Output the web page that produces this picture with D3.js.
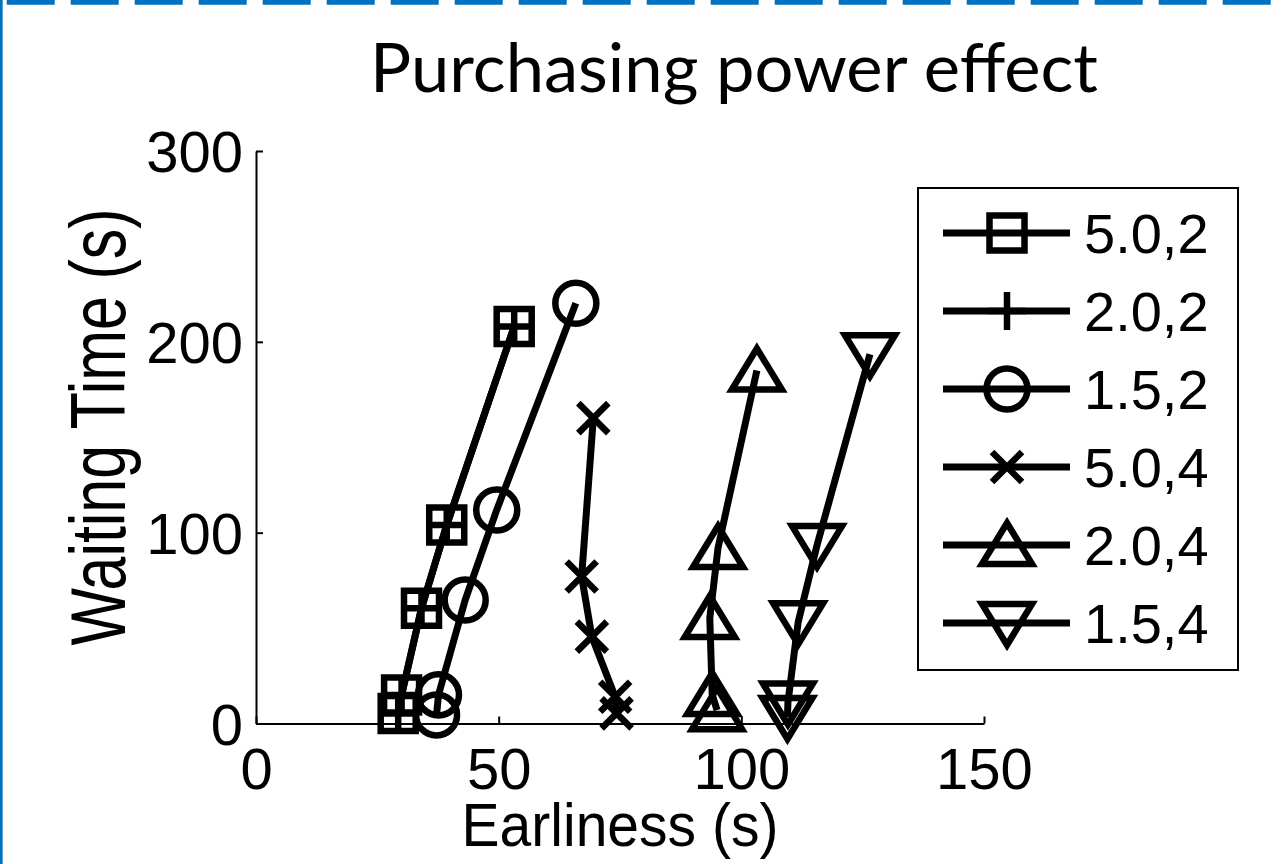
<!DOCTYPE html>
<html>
<head>
<meta charset="utf-8">
<script src="https://cdn.jsdelivr.net/npm/d3@7"></script>
<style>
html,body{margin:0;padding:0;background:#fff;}
svg{display:block;}
</style>
</head>
<body>
<svg id="chart" width="1281" height="864"></svg>
<script>
// ---- data ----
const seriesNames = ["5.0,2", "2.0,2", "1.5,2", "5.0,4", "2.0,4", "1.5,4"];
const markerTypes = ["square", "plus", "circle", "x", "triUp", "triDown"];
const earliness_50_2 = [29.3, 30.0, 34.1, 39.3, 53.2];
const waiting_50_2   = [5.3, 15, 60.4, 104, 208];
const earliness_20_2 = [29.3, 30.0, 34.1, 39.3, 53.2];
const waiting_20_2   = [5.3, 15, 60.4, 104, 208];
const earliness_15_2 = [37.2, 37.6, 43.1, 49.6, 65.9];
const waiting_15_2   = [4.5, 15, 64.7, 111.9, 220.2];
const earliness_50_4 = [74.3, 74.0, 69.2, 67.1, 69.5];
const waiting_50_4   = [5.3, 14, 45.5, 77, 160];
const earliness_20_4 = [95.0, 94.0, 93.5, 95.2, 103.2];
const waiting_20_4   = [7, 15, 55.3, 92, 185];
const earliness_15_4 = [109.5, 109.6, 111.7, 115.6, 126.5];
const waiting_15_4   = [3.4, 11, 53, 93.5, 193.5];
const xTicks = [0, 50, 100, 150];
const yTicks = [0, 100, 200, 300];
const titleText = "Purchasing power effect";
const xLabel = "Earliness (s)";
const yLabel = "Waiting Time (s)";

const seriesX = [earliness_50_2, earliness_20_2, earliness_15_2, earliness_50_4, earliness_20_4, earliness_15_4];
const seriesY = [waiting_50_2, waiting_20_2, waiting_15_2, waiting_50_4, waiting_20_4, waiting_15_4];
const series = seriesNames.map((name, i) => ({
  name, marker: markerTypes[i],
  points: seriesX[i].map((xv, j) => ({x: xv, y: seriesY[i][j]}))
}));

// ---- layout ----
const svg = d3.select("#chart");
const BLUE = "#0070C0";
const x = d3.scaleLinear().domain([0, 150]).range([256, 984]);
const y = d3.scaleLinear().domain([0, 300]).range([723.5, 151]);

// border (top dashed, left solid)
svg.append("line").attr("x1", 6.7).attr("x2", 1281).attr("y1", 2.4).attr("y2", 2.4)
  .attr("stroke", BLUE).attr("stroke-width", 4.8).attr("stroke-dasharray", "48 16");
svg.append("line").attr("x1", 1.3).attr("x2", 1.3).attr("y1", 0).attr("y2", 864)
  .attr("stroke", BLUE).attr("stroke-width", 2.7);

// title
svg.append("text").attr("x", 370).attr("y", 92)
  .attr("font-family", "Lato, 'Open Sans', sans-serif").attr("font-size", 67.5)
  .attr("textLength", 728).attr("lengthAdjust", "spacingAndGlyphs")
  .attr("fill", "#000").text(titleText);

// axes
const FONT = "'Liberation Sans', Arial, sans-serif";
const gx = svg.append("g").attr("transform", `translate(0,${y(0)})`)
  .call(d3.axisBottom(x).tickValues(xTicks).tickFormat(d3.format("d")).tickSizeInner(-7).tickSizeOuter(0));
const gy = svg.append("g").attr("transform", `translate(${x(0)},0)`)
  .call(d3.axisLeft(y).tickValues(yTicks).tickFormat(d3.format("d")).tickSizeInner(-7).tickSizeOuter(0));
[gx, gy].forEach(g => {
  g.select(".domain").attr("stroke", "#000").attr("stroke-width", 2);
  g.selectAll(".tick line").attr("stroke", "#000").attr("stroke-width", 2);
  g.selectAll(".tick text").attr("fill", "#000").attr("font-family", FONT).attr("font-size", 58);
});
gx.selectAll(".tick text").attr("y", 65).attr("dy", 0);
gy.selectAll(".tick text").attr("x", -13).attr("dy", "0.355em");

// axis labels
svg.append("text").attr("transform", `translate(620,846) scale(0.92,1)`)
  .attr("text-anchor", "middle").attr("font-family", FONT).attr("font-size", 62)
  .attr("fill", "#000").text(xLabel);
svg.append("text").attr("transform", `translate(125,427) rotate(-90) scale(0.79,1)`)
  .attr("text-anchor", "middle").attr("font-family", FONT).attr("font-size", 77)
  .attr("fill", "#000").text(yLabel);

// markers
function markerPath(type) {
  switch (type) {
    case "square": return "M-17.5,-17.5H17.5V17.5H-17.5Z";
    case "plus": return "M-19,0H19M0,-19V19";
    case "circle": { const p = d3.path(); p.arc(0, 0, 20.5, 0, 2 * Math.PI); p.closePath(); return p.toString(); }
    case "x": return "M-15,-15L15,15M-15,15L15,-15";
    case "triUp": return "M0,-22L25,19L-25,19Z";
    case "triDown": return "M0,22L25,-19L-25,-19Z";
  }
}

const line = d3.line().x(d => x(d.x)).y(d => y(d.y));
const plot = svg.append("g");
series.forEach(s => {
  const g = plot.append("g");
  g.append("path").datum(s.points).attr("d", line)
    .attr("fill", "none").attr("stroke", "#000").attr("stroke-width", 7)
    .attr("stroke-linejoin", "round");
  g.selectAll("path.mk").data(s.points).join("path").attr("class", "mk")
    .attr("transform", d => `translate(${x(d.x)},${y(d.y)})`)
    .attr("d", markerPath(s.marker))
    .attr("fill", "none").attr("stroke", "#000").attr("stroke-width", 6.5)
    .attr("stroke-linejoin", "miter").attr("stroke-miterlimit", 10);
});

// legend
const legend = svg.append("g");
legend.append("rect").attr("x", 918).attr("y", 188).attr("width", 320).attr("height", 482)
  .attr("fill", "#fff").attr("stroke", "#000").attr("stroke-width", 2);
const rowY = d3.scalePoint().domain(seriesNames).range([233, 623]);
series.forEach(s => {
  const cy = rowY(s.name);
  legend.append("line").attr("x1", 943).attr("x2", 1070).attr("y1", cy).attr("y2", cy)
    .attr("stroke", "#000").attr("stroke-width", 7);
  legend.append("path").attr("transform", `translate(1007,${cy})`).attr("d", markerPath(s.marker))
    .attr("fill", "none").attr("stroke", "#000").attr("stroke-width", 6.5)
    .attr("stroke-linejoin", "miter").attr("stroke-miterlimit", 10);
  legend.append("text").attr("x", 1084).attr("y", cy).attr("dy", "0.355em")
    .attr("font-family", FONT).attr("font-size", 56).attr("fill", "#000").text(s.name);
});
</script>
</body>
</html>
